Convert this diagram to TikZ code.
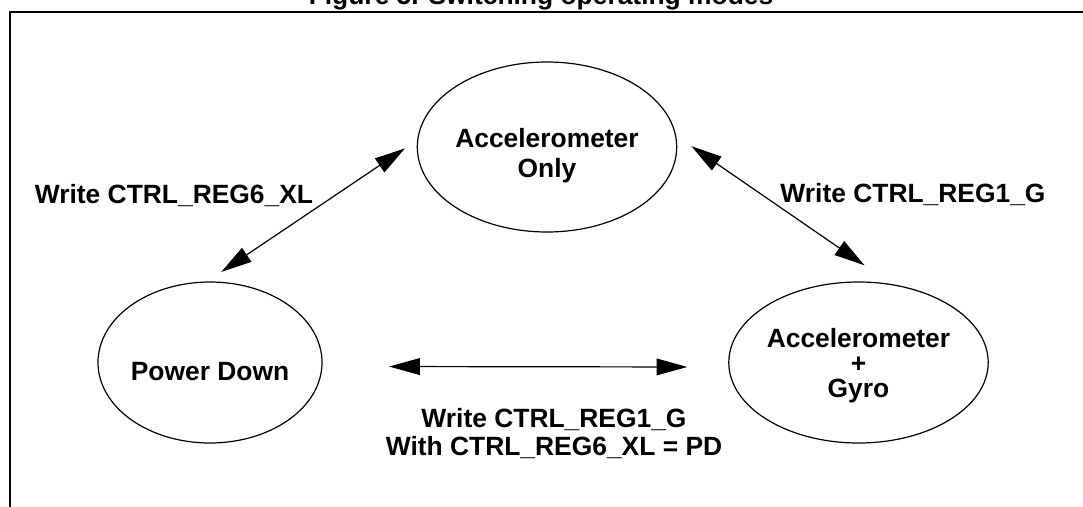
\documentclass[tikz,border=0pt]{standalone}
\usepackage{fontspec}
\setmainfont{Liberation Sans}
\usetikzlibrary{shapes.geometric,arrows.meta}

\tikzset{
	state/.style={draw, ellipse, line width=0.9pt, inner sep=0pt, align=center,
		text depth=0pt, font=\fontsize{19.8}{22}\selectfont\bfseries},
	lbl/.style={anchor=base, inner sep=0pt, align=center,
		font=\fontsize{19.8}{21}\selectfont\bfseries},
	biarrow/.style={{Triangle[length=23pt,width=12.5pt]}-{Triangle[length=23pt,width=12.5pt]}, line width=0.9pt},
	frame/.style={line width=1.5pt}
}

\begin{document}
\begin{tikzpicture}[x=0.75pt, y=-0.75pt]
	\useasboundingbox (0,0) rectangle (1083,507);
	%\draw[help lines] (0,0) grid[step=50] (1083,507);
	\draw[frame] (10,507) -- (10,12) -- (1083,12);
	\node[lbl] (title) at (541,4) {Figure 5. Switching operating modes};

	% the three modes
	\node[state, minimum width=165pt, minimum height=127.5pt, text height=45pt] (ao) at (547,147) {Accelerometer\\Only};
	\node[state, minimum width=165.75pt, minimum height=120.75pt, text height=26.25pt] (pd) at (210,362.5) {Power Down};
	\node[state, minimum width=165.75pt, minimum height=120.75pt, text height=51.75pt,
		font=\fontsize{19.8}{18.4}\selectfont\bfseries] (ag) at (858.5,362.5) {Accelerometer\\+\\Gyro};

	% transitions
	\draw[biarrow, shorten <=12.75pt, shorten >=10.9pt] (pd.92) -- (ao.177);
	\draw[biarrow, shorten <=13.9pt, shorten >=24.75pt] (ao.5) -- (ag.67);
	\draw[biarrow, shorten <=50pt, shorten >=30.8pt] (pd.-2) -- (ag.182);

	\node[lbl] (wxl) at (174,203) {Write CTRL\_REG6\_XL};
	\node[lbl] (wg) at (913,202) {Write CTRL\_REG1\_G};
	\node[lbl] (wgpd) at (554,455) {Write CTRL\_REG1\_G\\With CTRL\_REG6\_XL = PD};
\end{tikzpicture}
\end{document}
